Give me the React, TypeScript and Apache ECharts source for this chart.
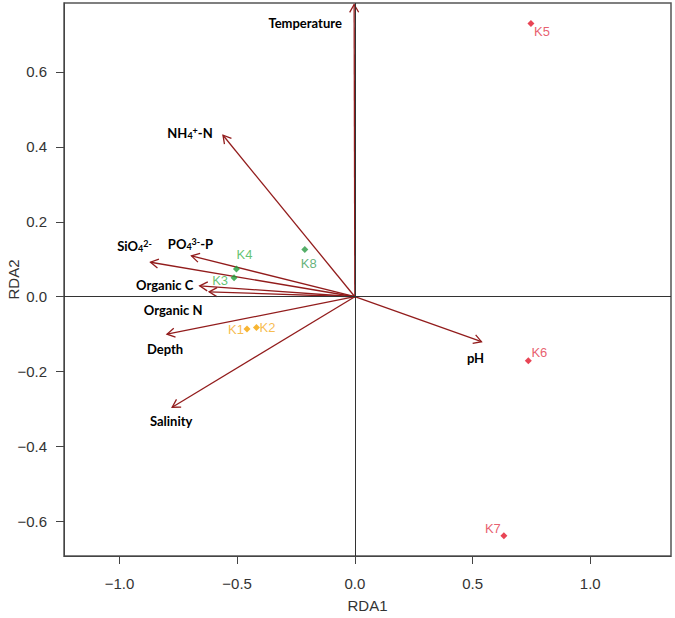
import React, { useEffect, useRef } from "react";
import * as echarts from "echarts";

// Environmental vectors (RDA biplot arrows)
const envNames = ["Temperature", "NH4+-N", "SiO42-", "PO43--P", "Organic C", "Organic N", "Depth", "Salinity", "pH"];
const envLabels = [
  "{b|Temperature}",
  "{b|NH}{sub|4}{sup|+}{b|-N}",
  "{b|SiO}{sub|4}{sup|2-}",
  "{b|PO}{sub|4}{sup|3-}{b|-P}",
  "{b|Organic C}",
  "{b|Organic N}",
  "{b|Depth}",
  "{b|Salinity}",
  "{b|pH}",
];
const envX = [-0.003, -0.56, -0.868, -0.694, -0.659, -0.619, -0.798, -0.776, 0.538];
const envY = [0.78, 0.431, 0.092, 0.109, 0.029, 0.013, -0.1, -0.295, -0.12];
// label offsets from arrow tip, in pixels
const envLabelOffsets = [
  [-49, 19], [-33, -2], [-16, -16], [-1, -12], [-35, -1], [-36, 18], [-2, 15], [-1, 14], [-6, 16],
];

// Sites
const siteNames = ["K1", "K2", "K3", "K4", "K5", "K6", "K7", "K8"];
const siteX = [-0.458, -0.418, -0.513, -0.503, 0.748, 0.737, 0.633, -0.2125];
const siteY = [-0.086, -0.082, 0.051, 0.074, 0.729, -0.171, -0.638, 0.126];
const siteGroup = ["orange", "orange", "green", "green", "red", "red", "red", "darkgreen"];
const siteLabelOffsets = [
  [-11, 1], [11, 0], [-14, 3], [8, -15], [11, 8], [11, -8], [-11, -7], [4, 14],
];

const xTicks = [-1, -0.5, 0, 0.5, 1];
const yTicks = [-0.6, -0.4, -0.2, 0, 0.2, 0.4, 0.6];

const groupColors: Record<string, { point: string; label: string }> = {
  orange: { point: "#f5a300", label: "#f5ab1e" },
  green: { point: "#1f9e3a", label: "#3cb44e" },
  darkgreen: { point: "#2a9a44", label: "#3c9e58" },
  red: { point: "#e2162a", label: "#e2364a" },
};

const ARROW = "#921c1c";
const FONT = "'Liberation Sans', Arial, sans-serif";

const fmt = (v: number) => (v < 0 ? "\u2212" + Math.abs(v).toFixed(1) : v.toFixed(1));

export default function App() {
  const ref = useRef<HTMLDivElement>(null);
  useEffect(() => {
    document.body.style.margin = "0";
    const chart = echarts.init(ref.current!, null, { renderer: "svg" });
    const rich = {
      b: { fontSize: 13, fontWeight: "bold", fontFamily: "Lato, sans-serif", color: "#111", lineHeight: 18, verticalAlign: "middle" },
      sub: { fontSize: 9, fontWeight: "bold", fontFamily: "Lato, sans-serif", color: "#111", lineHeight: 18, verticalAlign: "bottom", padding: [0, 0, 2, 0] },
      sup: { fontSize: 9, fontWeight: "bold", fontFamily: "Lato, sans-serif", color: "#111", lineHeight: 18, verticalAlign: "top", padding: [2, 0, 0, 0] },
    };
    const option: any = {
      animation: false,
      grid: {
        left: 64, right: 4, top: 3, bottom: 62,
        containLabel: false, outerBoundsMode: "none",
        show: true, borderColor: "#555", borderWidth: 1.5,
      },
      xAxis: {
        type: "value",
        min: -1.2355,
        max: 1.343,
        name: "RDA1",
        nameLocation: "middle",
        nameGap: 42,
        nameTextStyle: { fontFamily: FONT, fontSize: 15, color: "#333" },
        splitLine: { show: false },
        axisLine: { show: true, onZero: false, lineStyle: { color: "#444", width: 1 } },
        axisTick: { show: true, length: 8, customValues: xTicks, lineStyle: { color: "#444" } },
        axisLabel: { customValues: xTicks, formatter: fmt, margin: 20, fontFamily: FONT, fontSize: 15, color: "#333" },
      },
      yAxis: {
        type: "value",
        min: -0.692,
        max: 0.784,
        name: "RDA2",
        nameLocation: "middle",
        nameGap: 51,
        nameMoveOverlap: false,
        nameTextStyle: { fontFamily: FONT, fontSize: 15, color: "#333", verticalAlign: "middle" },
        splitLine: { show: false },
        axisLine: { show: true, onZero: false, lineStyle: { color: "#444", width: 1 } },
        axisTick: { show: true, length: 8, customValues: yTicks, lineStyle: { color: "#444" } },
        axisLabel: { customValues: yTicks, formatter: fmt, margin: 17, fontFamily: FONT, fontSize: 15, color: "#333" },
      },
      series: [
        {
          type: "custom",
          coordinateSystem: "cartesian2d",
          silent: true,
          clip: false,
          data: envNames.map((n, i) => ({ name: n, value: [envX[i], envY[i]] })),
          renderItem: (params: any, api: any) => {
            const o = api.coord([0, 0]);
            const t = api.coord([api.value(0), api.value(1)]);
            const ang = Math.atan2(o[1] - t[1], o[0] - t[0]);
            const L = 9;
            const a = Math.PI / 6;
            const w1 = [t[0] + L * Math.cos(ang + a), t[1] + L * Math.sin(ang + a)];
            const w2 = [t[0] + L * Math.cos(ang - a), t[1] + L * Math.sin(ang - a)];
            const off = envLabelOffsets[params.dataIndex];
            return {
              type: "group",
              children: [
                { type: "line", shape: { x1: o[0], y1: o[1], x2: t[0], y2: t[1] }, style: { stroke: ARROW, lineWidth: 1.3 } },
                { type: "polyline", shape: { points: [w1, t, w2] }, style: { stroke: ARROW, lineWidth: 1.3, fill: "none" } },
                {
                  type: "text",
                  x: t[0] + off[0],
                  y: t[1] + off[1],
                  style: { text: envLabels[params.dataIndex], rich, align: "center", verticalAlign: "middle" },
                },
              ],
            };
          },
          z: 3,
        },
        {
          type: "scatter",
          symbol: "diamond",
          symbolSize: 7,
          z: 4,
          data: siteNames.map((n, i) => ({
            name: n,
            value: [siteX[i], siteY[i]],
            itemStyle: { color: groupColors[siteGroup[i]].point },
            label: {
              show: true,
              position: "inside",
              offset: siteLabelOffsets[i],
              formatter: n,
              color: groupColors[siteGroup[i]].label,
              fontFamily: FONT,
              fontSize: 13,
            },
          })),
          markLine: {
            silent: true,
            symbol: "none",
            label: { show: false },
            lineStyle: { color: "#333", width: 1, type: "solid" },
            data: [{ xAxis: 0 }, { yAxis: 0 }],
          },
        },
      ],
    };
    chart.setOption(option);
    return () => chart.dispose();
  }, []);
  return <div ref={ref} style={{ width: 675, height: 618 }} />;
}
